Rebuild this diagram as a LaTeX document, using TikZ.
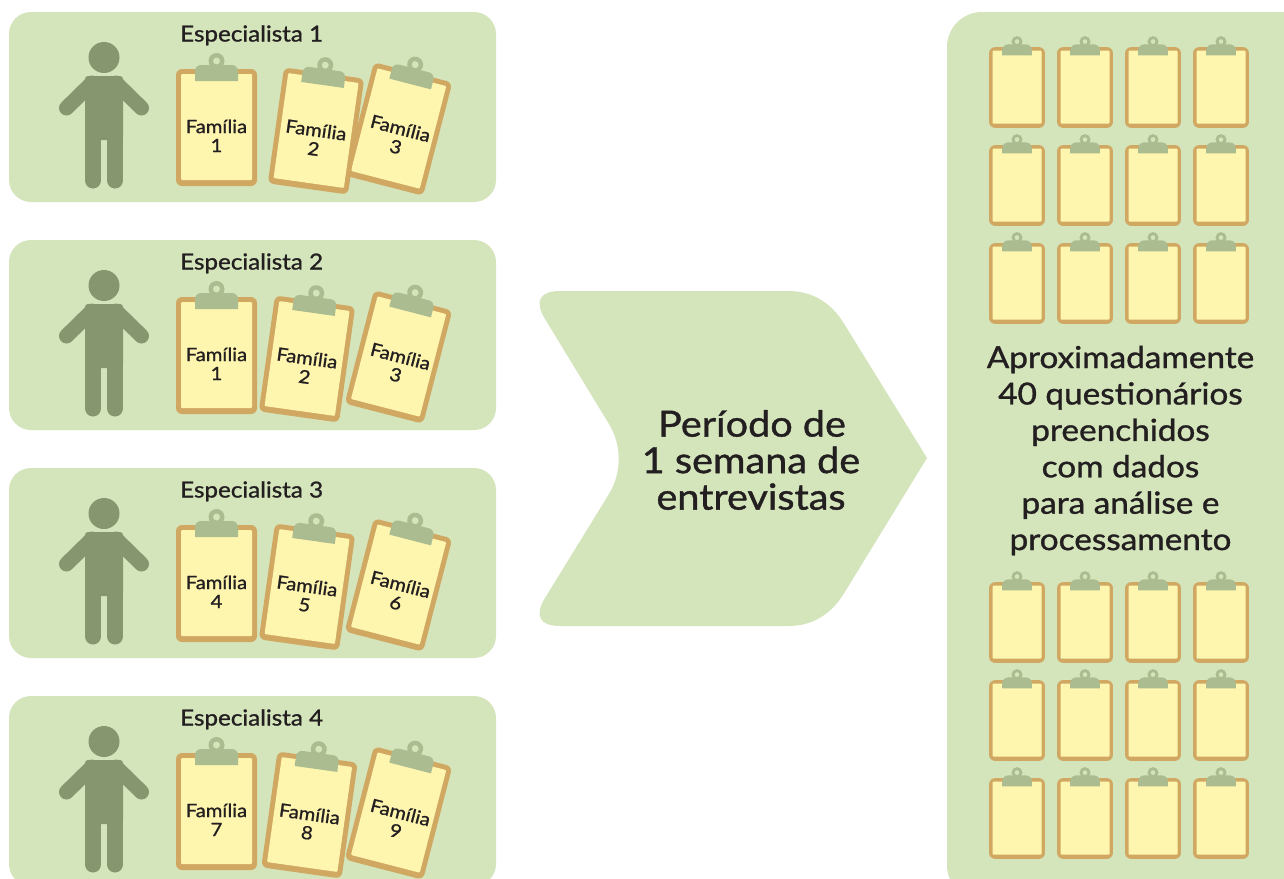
\documentclass[tikz,border=0pt]{standalone}
\usepackage{fontspec}
\setmainfont[FakeBold=1.1,FakeStretch=1.1]{Lato}
\definecolor{boxgreen}{HTML}{D4E5BC}
\definecolor{persongreen}{HTML}{86966F}
\definecolor{boardtan}{HTML}{D1A862}
\definecolor{paperyellow}{HTML}{FEF5AE}
\definecolor{clipgreen}{HTML}{ABBC91}
\definecolor{inktext}{HTML}{231F20}
\tikzset{
  panel/.style={fill=boxgreen,rounded corners=22pt},
  famtext/.style={inner sep=0pt,text=inktext,align=center,font=\fontsize{18.3}{19}\selectfont,transform shape},
  spectext/.style={inner sep=0pt,text=inktext,font=\fontsize{22}{24}\selectfont},
  bigtext/.style={inner sep=0pt,text=inktext,align=center},
}
% x, y, angle, scale, name, text
\newcommand{\clipboard}[6]{%
  \begin{scope}[shift={(#1,#2)},rotate=#3,scale=#4]
    \fill[boardtan,rounded corners=6pt] (-40.5,-58.5) rectangle (40.5,58.5);
    \fill[paperyellow,rounded corners=1pt] (-35.5,-53.5) rectangle (35.5,52.5);
    \fill[clipgreen,even odd rule] (0,-66.5) circle[radius=8pt] (0,-66.5) circle[radius=3.6pt];
    \fill[clipgreen,sharp corners] (-21.5,-46.5) [rounded corners=6pt] -- (-21.5,-62.5) -- (21.5,-62.5) [sharp corners] -- (21.5,-46.5) -- cycle;
    \node[famtext] (#5) at ({(#3<-10)*1.8},8.3) {#6};
  \end{scope}}
% person with y offset
\newcommand{\person}[2]{%
  \begin{scope}[yshift=-#1pt]
    \fill[persongreen] (104,57.5) circle[radius=15.5pt];
    \fill[persongreen,rounded corners=3pt] (85,140) -- (85,76) -- (123,76) -- (123,140) -- cycle;
    \draw[persongreen,line width=15pt,line cap=round] (66.5,108) -- (92,83);
    \draw[persongreen,line width=15pt,line cap=round] (141.5,108) -- (116,83);
    \draw[persongreen,line width=16pt,line cap=round] (93,130) -- (93,180.5);
    \draw[persongreen,line width=16pt,line cap=round] (115,130) -- (115,180.5);
    \node[spectext,anchor=base west] (#2) at (180,41.5) {Especialista \pgfmathparse{int(#1/228+1)}\pgfmathresult};
  \end{scope}}
\begin{document}
\begin{tikzpicture}[x=1pt,y=-1pt]
\useasboundingbox (0,0) rectangle (1284,878);
\clip (0,0) rectangle (1284,878);
\fill[white] (0,0) rectangle (1284,878);
% left panels
\fill[panel] (9,12) rectangle (496,202);
\fill[panel] (9,240) rectangle (496,430);
\fill[panel] (9,468) rectangle (496,658);
\fill[panel] (9,696) rectangle (496,886);
\person{0}{s1}
\person{228}{s2}
\person{456}{s3}
\person{684}{s4}
% clipboards on the panels (third behind second)
\clipboard{398.5}{129}{-14.5}{1}{f13}{Família\\3}
\clipboard{316}{131}{-8}{1}{f12}{Família\\2}
\clipboard{216.5}{127.5}{0}{1}{f11}{Família\\1}
\clipboard{398.5}{357}{-14.5}{1}{f23}{Família\\3}
\clipboard{307}{359}{-8}{1}{f22}{Família\\2}
\clipboard{216.5}{355.5}{0}{1}{f21}{Família\\1}
\clipboard{398.5}{585}{-14.5}{1}{f33}{Família\\6}
\clipboard{307}{587}{-8}{1}{f32}{Família\\5}
\clipboard{216.5}{583.5}{0}{1}{f31}{Família\\4}
\clipboard{398.5}{813}{-14.5}{1}{f43}{Família\\9}
\clipboard{309.5}{815}{-8}{1}{f42}{Família\\8}
\clipboard{216.5}{811.5}{0}{1}{f41}{Família\\7}
% chevron
\fill[boxgreen] (560,291) -- (788,291)
  .. controls (812,291) and (830,302) .. (843,322)
  -- (927,458) -- (843,595)
  .. controls (830,615) and (812,626) .. (788,626)
  -- (560,626)
  .. controls (540,626) and (534,616) .. (545,598)
  -- (609,494)
  .. controls (622,472) and (622,446) .. (609,424)
  -- (545,319)
  .. controls (534,301) and (540,291) .. (560,291) -- cycle;
\node[bigtext,font=\fontsize{36}{36.5}\selectfont] (periodo) at (751,460) {\hspace*{2pt}Período de\\1 semana de\\entrevistas};
% right panel
\fill[boxgreen,rounded corners=35pt] (947,12) rectangle (1320,900);
\foreach \cx in {1017,1085,1153,1221}
  \foreach \cy in {87.5,185.5,283.5,622.5,720.5,818.5}
    {\clipboard{\cx}{\cy}{0}{0.69}{q\cx-\cy}{}}
\node[bigtext,font=\fontsize{30.3}{36.4}\selectfont] (aprox) at (1120.5,450.5) {Aproximadamente\\40 questionários\\preenchidos\\com dados\\para análise e\\processamento};
\end{tikzpicture}
\end{document}
